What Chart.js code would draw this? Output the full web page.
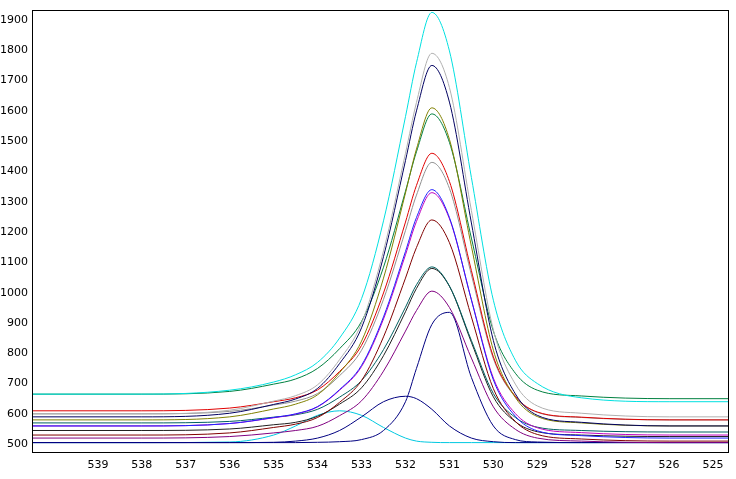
<!DOCTYPE html>
<html>
<head>
<meta charset="utf-8">
<script src="https://cdn.jsdelivr.net/npm/chart.js@4/dist/chart.umd.min.js"></script>
<style>
  body { margin: 0; background: #fff; }
  #wrap { width: 736px; height: 479px; }
</style>
</head>
<body>
<div id="wrap"><canvas id="myChart"></canvas></div>
<script>
// binding energy grid (eV), shared by all curves
const energies = [540.5, 538, 536, 535, 534.5, 534, 533.5, 533, 532.5, 532, 531.75, 531.4, 531, 530.5, 530, 529.5, 529, 528, 526, 524.66];

// fitted envelopes
const cyanFit    = [665, 665, 678, 705, 729, 770, 850, 980, 1237, 1581, 1759, 1925, 1798, 1380, 975, 777, 700, 653, 640, 640];
const greyFit    = [600, 600, 612, 642, 660, 696, 779, 899, 1138, 1460, 1628, 1790, 1677, 1271, 877, 698, 626, 602, 590, 590];
const navyFit    = [590, 590, 602, 631, 649, 684, 766, 884, 1119, 1436, 1600, 1750, 1629, 1230, 842, 666, 595, 572, 560, 560];
const oliveFit   = [580, 580, 590, 616, 632, 663, 736, 840, 1048, 1329, 1474, 1610, 1506, 1153, 810, 654, 591, 570, 560, 560];
const greenFit   = [665, 665, 674, 698, 715, 750, 815, 905, 1084, 1335, 1465, 1590, 1496, 1180, 873, 734, 678, 659, 650, 650];
const redFit     = [610, 610, 619, 640, 653, 679, 740, 826, 999, 1233, 1354, 1460, 1367, 1073, 788, 658, 606, 589, 580, 580];
const silverFit  = [600, 600, 608, 629, 642, 667, 726, 810, 978, 1205, 1322, 1430, 1344, 1059, 782, 656, 605, 588, 580, 580];
const blueFit    = [560, 560, 568, 588, 600, 624, 680, 760, 920, 1136, 1248, 1340, 1248, 976, 712, 592, 544, 528, 520, 520];
const magentaFit = [560, 560, 568, 587, 599, 623, 678, 756, 913, 1125, 1235, 1330, 1244, 977, 718, 601, 554, 538, 530, 530];
const maroonFit  = [530, 530, 537, 555, 566, 588, 638, 710, 854, 1048, 1149, 1240, 1165, 920, 683, 575, 532, 517, 510, 510];
const tealFit    = [570, 570, 575, 589, 597, 615, 655, 710, 812, 952, 1026, 1085, 1022, 842, 667, 588, 556, 545, 540, 540];
const blackFit   = [545, 545, 550, 564, 572, 592, 632, 686, 792, 937, 1014, 1080, 1021, 836, 656, 574, 541, 530, 525, 525];
const purpleFit  = [520, 520, 525, 537, 545, 559, 594, 643, 741, 873, 941, 1005, 951, 784, 623, 549, 520, 510, 505, 505];

// fitted components of the lowest spectrum
const compMain   = [505, 505, 505, 505, 505, 506, 508, 515, 545, 640, 750, 895, 935, 720, 560, 515, 507, 505, 505, 505];
const compMid    = [505, 505, 505, 506, 510, 520, 545, 590, 640, 658, 650, 615, 560, 520, 508, 505, 505, 505, 505, 505];
const compSmall  = [505, 505, 507, 530, 560, 595, 610, 595, 555, 520, 510, 506, 505, 505, 505, 505, 505, 505, 505, 505];

const yTicks = [500, 600, 700, 800, 900, 1000, 1100, 1200, 1300, 1400, 1500, 1600, 1700, 1800, 1900];
const xTicks = [539, 538, 537, 536, 535, 534, 533, 532, 531, 530, 529, 528, 527, 526, 525];

const curves = [
  [cyanFit, "#00e0e0"], [greyFit, "#b0b0b0"], [navyFit, "#000060"], [oliveFit, "#808000"],
  [greenFit, "#008040"], [redFit, "#e00000"], [silverFit, "#909090"], [blueFit, "#2020ff"],
  [magentaFit, "#c000c0"], [maroonFit, "#800000"], [tealFit, "#006060"], [blackFit, "#202020"],
  [purpleFit, "#800080"], [compMain, "#000080"], [compMid, "#000080"], [compSmall, "#00c8e0"]
];

const datasets = curves.map(([vals, color]) => ({
  data: energies.map((e, i) => ({ x: e, y: vals[i] })),
  borderColor: color,
  borderWidth: 1,
  pointRadius: 0,
  fill: false,
  cubicInterpolationMode: "monotone",
}));

const font = { family: "DejaVu Sans", size: 11 };

new Chart(document.getElementById("myChart"), {
  type: "line",
  data: { datasets: datasets },
  options: {
    responsive: true,
    maintainAspectRatio: false,
    animation: false,
    layout: { padding: { top: 10, right: 8, left: 0, bottom: 0 } },
    plugins: { legend: { display: false }, tooltip: { enabled: false } },
    scales: {
      x: {
        type: "linear",
        reverse: true,
        min: 524.66,
        max: 540.5,
        afterBuildTicks: (ax) => { ax.ticks = xTicks.map(v => ({ value: v })); },
        afterFit: (ax) => { ax.height = 27; },
        grid: { display: false, drawTicks: true, tickLength: 4, tickColor: "#000" },
        border: { color: "#000" },
        ticks: { color: "#000", font: font, maxRotation: 0, padding: 3, callback: (v) => String(v) },
      },
      y: {
        min: 474,
        max: 1933,
        afterBuildTicks: (ax) => { ax.ticks = yTicks.map(v => ({ value: v })); },
        afterFit: (ax) => { ax.width = 32; },
        grid: { display: false, drawTicks: true, tickLength: 3, tickColor: "#000" },
        border: { color: "#000" },
        ticks: { color: "#000", font: font, padding: 1, callback: (v) => String(v) },
      },
    },
  },
  plugins: [{
    id: "frame",
    afterDraw(chart) {
      const { ctx, chartArea: a } = chart;
      ctx.save();
      ctx.strokeStyle = "#000";
      ctx.lineWidth = 1;
      ctx.strokeRect(a.left + 0.5, a.top + 0.5, a.right - a.left, a.bottom - a.top);
      ctx.restore();
    },
  }],
});
</script>
</body>
</html>
